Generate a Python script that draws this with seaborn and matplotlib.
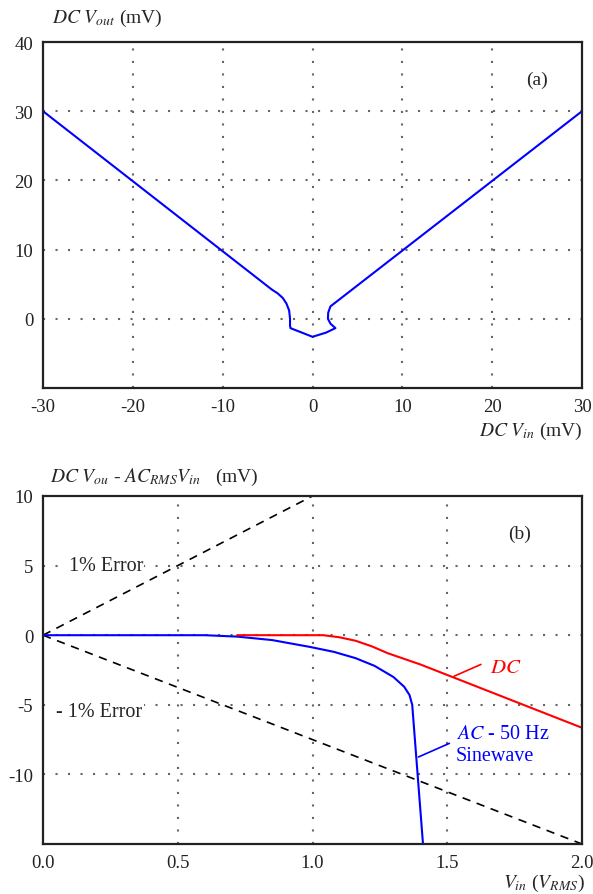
import numpy as np
import pandas as pd
import matplotlib
matplotlib.use("Agg")
import matplotlib.pyplot as plt
import seaborn as sns

# (a) DC transfer curve
vin_a = [-30, -4.5, -3.9, -3.3, -2.9, -2.6, -2.5, -2.5, -2.45, 0.0, 1.5, 2.55,
         2.0, 1.72, 1.75, 2.0, 2.5, 30]
vout_a = [30, 4.2, 3.7, 3.0, 2.2, 1.2, 0.0, -1.0, -1.35, -2.6, -2.0, -1.35,
          -0.7, 0.0, 0.9, 1.8, 2.3, 30]

# (b) error curves
vin_ac = [0.0, 0.6, 0.72, 0.85, 0.99, 1.08, 1.16, 1.23, 1.30, 1.34, 1.36, 1.37, 1.41]
err_ac = [0.0, 0.0, -0.1, -0.35, -0.84, -1.2, -1.65, -2.2, -3.0, -3.7, -4.3, -5.0, -15.0]
vin_dc = [0.72, 1.04, 1.10, 1.16, 1.22, 1.28, 1.40, 2.0]
err_dc = [0.0, 0.0, -0.15, -0.4, -0.8, -1.3, -2.1, -6.65]
err_up_x = [0.0, 1.0]
err_up_y = [0.0, 10.0]
err_lo_x = [0.0, 2.0]
err_lo_y = [0.0, -15.0]

xticks_a = [-30, -20, -10, 0, 10, 20, 30]
yticks_a = [0, 10, 20, 30, 40]
xticks_b = [0.0, 0.5, 1.0, 1.5, 2.0]
yticks_b = [-10, -5, 0, 5, 10]

sns.set_style("white")
plt.rcParams['font.family'] = ['Liberation Serif', 'DejaVu Serif']
plt.rcParams['mathtext.fontset'] = 'stix'
plt.rcParams['axes.unicode_minus'] = False

fig = plt.figure(figsize=(5.93, 8.95), dpi=100)
ax1 = fig.add_axes([43/593, 1-389/895, 539/593, 346/895])
ax2 = fig.add_axes([43/593, 1-845/895, 539/593, 348/895])

grid_kw = dict(color='#666666', linestyle=(0, (1, 5)), linewidth=1.5, zorder=0)

# ---- panel (a)
for x in [-20, -10, 0, 10, 20]:
    ax1.axvline(x, **grid_kw)
for y in [0, 10, 20, 30]:
    ax1.axhline(y, **grid_kw)
df_a = pd.DataFrame({'vin': vin_a, 'vout': vout_a})
sns.lineplot(data=df_a, x='vin', y='vout', sort=False, estimator=None,
             color='#0000ff', linewidth=1.5, ax=ax1)
ax1.set_xlim(-30, 30)
ax1.set_ylim(-10, 40)
ax1.set_xticks(xticks_a)
ax1.set_yticks(yticks_a)
ax1.text(25, 34.6, '(a)', fontsize=14, ha='center', va='center')

# ---- panel (b)
for x in [0.5, 1.0, 1.5]:
    ax2.axvline(x, **grid_kw)
for y in [-10, -5, 0, 5]:
    ax2.axhline(y, **grid_kw)
sns.lineplot(x=err_up_x, y=err_up_y, color='black', linewidth=1.2,
             linestyle=(0, (5, 4)), ax=ax2)
sns.lineplot(x=err_lo_x, y=err_lo_y, color='black', linewidth=1.2,
             linestyle=(0, (5, 4)), ax=ax2)
sns.lineplot(x=vin_ac, y=err_ac, sort=False, estimator=None,
             color='#0000ff', linewidth=1.5, ax=ax2)
sns.lineplot(x=vin_dc, y=err_dc, sort=False, estimator=None,
             color='#ff0000', linewidth=1.5, ax=ax2)
ax2.set_xlim(0, 2)
ax2.set_ylim(-15, 10)
ax2.set_xticks(xticks_b)
ax2.set_xticklabels(['0.0', '0.5', '1.0', '1.5', '2.0'])
ax2.set_yticks(yticks_b)

ax2.text(0.095, 5, '1% Error', fontsize=14.5, ha='left', va='center',
         bbox=dict(facecolor='white', edgecolor='none', pad=1))
ax2.text(0.05, -5.5, '- 1% Error', fontsize=14.5, ha='left', va='center',
         bbox=dict(facecolor='white', edgecolor='none', pad=1))
ax2.text(1.77, 7.3, '(b)', fontsize=14, ha='center', va='center')

ax2.plot([1.525, 1.625], [-2.95, -2.1], color='#ff0000', linewidth=1.2)
ax2.text(1.66, -2.3, r'$DC$', color='#ff0000', fontsize=15, ha='left', va='center')
ax2.plot([1.393, 1.508], [-8.75, -7.77], color='#0000ff', linewidth=1.2)
ax2.text(1.532, -7.05, r'$AC$ - 50 Hz', color='#0000ff', fontsize=14.5,
         ha='left', va='center')
ax2.text(1.532, -8.65, 'Sinewave', color='#0000ff', fontsize=14.5,
         ha='left', va='center')

for ax in (ax1, ax2):
    for s in ax.spines.values():
        s.set_visible(True)
        s.set_color('#222222')
        s.set_linewidth(1.6)
    ax.tick_params(length=0, labelsize=13.5, pad=7, colors='#222222')
    ax.set_xlabel('')
    ax.set_ylabel('')

fig.text(52/593, 1-18/895, r'$DC\ V_{out}$ (mV)', fontsize=14, ha='left', va='center')
fig.text(583/593, 1-431/895, r'$DC\ V_{in}$ (mV)', fontsize=14, ha='right', va='center')
fig.text(50/593, 1-477/895, r'$DC\ V_{ou}$ - $AC_{RMS}V_{in}$   (mV)', fontsize=14,
         ha='left', va='center')
fig.text(585/593, 1-883/895, r'$V_{in}$ ($V_{RMS}$)', fontsize=14, ha='right', va='center')

fig.savefig('out.png', dpi=100)
